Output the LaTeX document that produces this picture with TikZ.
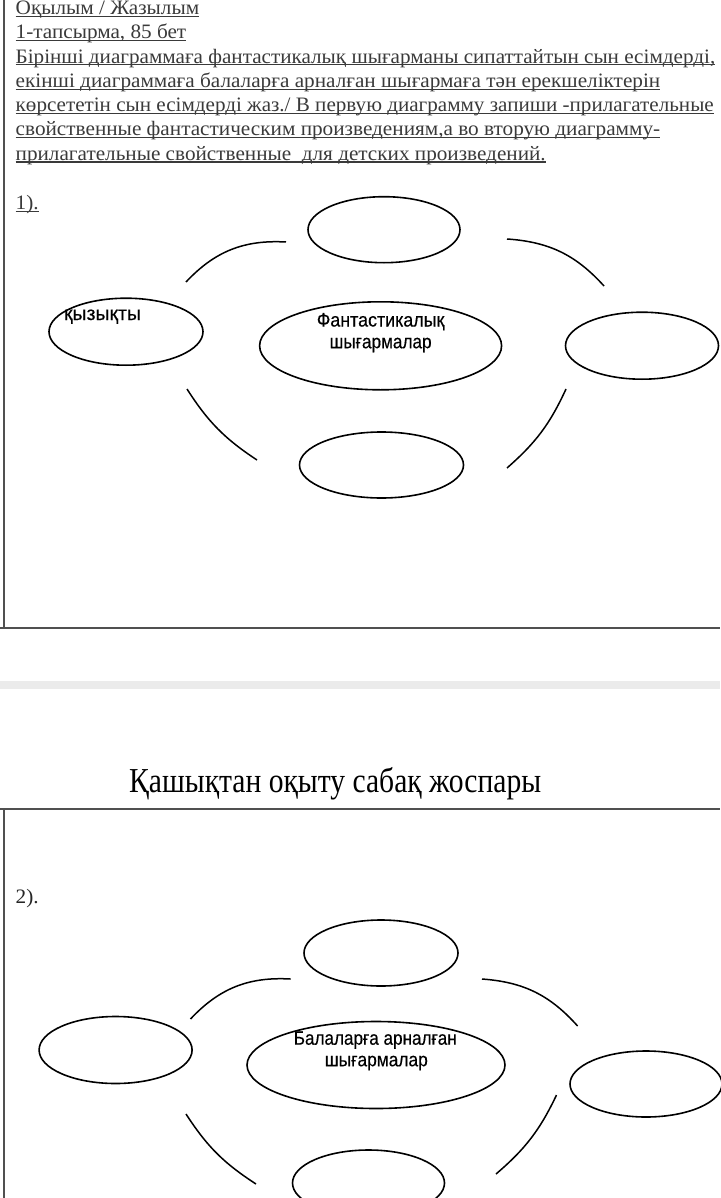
\documentclass[tikz,border=0pt]{standalone}
\usepackage{fontspec}
\usepackage{graphicx}
\setmainfont{Liberation Serif}
\newfontfamily\diasans[FakeBold=0.4]{Liberation Sans}
\usetikzlibrary{shapes.geometric}
\definecolor{txtgray}{HTML}{3A3A3A}
\definecolor{rulegray}{HTML}{505050}
\definecolor{bandgray}{HTML}{EBEBEB}
\tikzset{
  bodyline/.style={anchor=base west, inner sep=0pt, text=txtgray, font=\fontsize{20.5}{24}\selectfont},
  uline/.style={draw=txtgray, line width=1.2pt},
  tablerule/.style={draw=rulegray, line width=1.1pt},
  ell/.style={ellipse, draw=black, line width=1.6pt, inner sep=0pt},
  arcline/.style={draw=black, line width=1.5pt},
  diatext/.style={inner sep=0pt, font=\diasans\fontsize{19.5}{22}\selectfont, text=black},
}
\newcommand{\fitw}[2]{\resizebox{#1}{\height}{#2}}
\begin{document}
\begin{tikzpicture}[x=1pt,y=-1pt]
\useasboundingbox (0,0) rectangle (720,1198);
% tables and band
\draw[tablerule] (4,0) -- (4,628);
\draw[tablerule] (0,628) -- (720,628);
\fill[bandgray] (0,681) rectangle (720,689);
\draw[tablerule] (0,809) -- (720,809);
\draw[tablerule] (4,809) -- (4,1198);
% header text
\node[bodyline] (h1) at (15.5,15) {\fitw{183.5pt}{Оқылым / Жазылым}};
\node[bodyline] (h2) at (15.5,38.8) {\fitw{170.5pt}{1-тапсырма, 85 бет}};
\node[bodyline] (p1) at (15.5,63.1) {\fitw{699.5pt}{Бірінші диаграммаға фантастикалық шығарманы сипаттайтын сын есімдерді,}};
\node[bodyline] (p2) at (15.5,87.4) {\fitw{644.5pt}{екінші диаграммаға балаларға арналған шығармаға тән ерекшеліктерін}};
\node[bodyline] (p3) at (15.5,111.7) {\fitw{698pt}{көрсететін сын есімдерді жаз./ В первую диаграмму запиши -прилагательные}};
\node[bodyline] (p4) at (15.5,136) {\fitw{644.5pt}{свойственные фантастическим произведениям,а во вторую диаграмму-}};
\node[bodyline] (p5) at (15.5,160.3) {\fitw{530pt}{прилагательные свойственные\ \ для детских произведений.}};
\node[bodyline] (n1) at (15.5,210) {\fitw{23pt}{1).}};
\foreach \n in {h1,h2,p1,p2,p3,p4,p5,n1}{
  \draw[uline] ([yshift=-1.8pt]\n.base west) -- ([yshift=-1.8pt]\n.base east);
}
% title
\node[anchor=base west, inner sep=0pt, font=\fontsize{35}{40}\selectfont] (title) at (129,792) {\fitw{412pt}{Қашықтан оқыту сабақ жоспары}};
\node[bodyline, text=black!85] (n2) at (15.5,903) {\fitw{23pt}{2).}};

% ---------- diagram 1 ----------
\node[ell, minimum width=152pt, minimum height=66pt] (a-top) at (384,229.7) {};
\node[ell, minimum width=154pt, minimum height=67pt] (a-left) at (126,331.7) {};
\node[ell, minimum width=242pt, minimum height=88pt] (a-mid) at (380.6,345.8) {};
\node[ell, minimum width=153pt, minimum height=67pt] (a-right) at (642,345.7) {};
\node[ell, minimum width=164pt, minimum height=66pt] (a-bot) at (381.5,465) {};
\node[diatext] (a-lt) at (102.5,316.7) {\fitw{77pt}{қызықты}};
\node[diatext] (a-m1) at (380.6,321.7) {\fitw{127.6pt}{Фантастикалық}};
\node[diatext] (a-m2) at (380.6,345) {\fitw{102pt}{шығармалар}};
\coordinate (a1s) at (186,282); \coordinate (a1e) at (286,242);
\coordinate (a2s) at (507,239); \coordinate (a2e) at (604,286);
\coordinate (a3s) at (566,389); \coordinate (a3e) at (507,468);
\coordinate (a4s) at (257,460); \coordinate (a4e) at (187,389);
\draw[arcline] (a1s) to[bend left=25] (a1e);
\draw[arcline] (a2s) to[bend left=22] (a2e);
\draw[arcline] (a3s) to[bend left=12] (a3e);
\draw[arcline] (a4s) to[bend left=12] (a4e);

% ---------- diagram 2 ----------
\node[ell, minimum width=154pt, minimum height=66pt] (b-top) at (381,953) {};
\node[ell, minimum width=153pt, minimum height=67pt] (b-left) at (115.6,1050) {};
\node[ell, minimum width=258pt, minimum height=87pt] (b-mid) at (376,1065) {};
\node[ell, minimum width=152pt, minimum height=66pt] (b-right) at (646,1084) {};
\node[ell, minimum width=152pt, minimum height=66pt] (b-bot) at (368.5,1183) {};
\node[diatext] (b-m1) at (375.3,1040) {\fitw{163pt}{Балаларға арналған}};
\node[diatext] (b-m2) at (376.3,1063) {\fitw{103pt}{шығармалар}};
\coordinate (b1s) at (190.5,1019); \coordinate (b1e) at (290.6,979);
\coordinate (b2s) at (482,979); \coordinate (b2e) at (577.6,1026);
\coordinate (b3s) at (556.5,1095); \coordinate (b3e) at (496,1174);
\coordinate (b4s) at (256,1184); \coordinate (b4e) at (186,1114);
\draw[arcline] (b1s) to[bend left=25] (b1e);
\draw[arcline] (b2s) to[bend left=22] (b2e);
\draw[arcline] (b3s) to[bend left=12] (b3e);
\draw[arcline] (b4s) to[bend left=12] (b4e);
\end{tikzpicture}
\end{document}
